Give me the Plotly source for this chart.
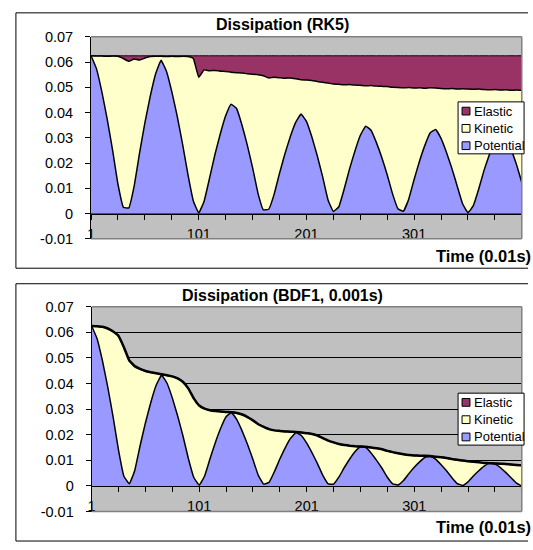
import plotly.graph_objects as go

# time steps (every 5th sample of the 0.01s series)
time_steps = list(range(1, 402, 5))

# RK5 run
rk5_potential = [
    0.0625, 0.0574, 0.0483, 0.0374, 0.0251, 0.0116, 0.0025,
    0.0022, 0.0108, 0.0238, 0.0359, 0.0465, 0.0554, 0.0607,
    0.0564, 0.0483, 0.0386, 0.0275, 0.0154, 0.0050,
    0.0002, 0.0049, 0.0139, 0.0233, 0.0315, 0.0387, 0.0433,
    0.0417, 0.0353, 0.0273, 0.0182, 0.0081, 0.0015,
    0.0017, 0.0076, 0.0159, 0.0236, 0.0304, 0.0361, 0.0394,
    0.0365, 0.0304, 0.0230, 0.0147, 0.0055, 0.0008,
    0.0026, 0.0096, 0.0176, 0.0247, 0.0309, 0.0346,
    0.0330, 0.0281, 0.0222, 0.0154, 0.0078, 0.0019,
    0.0009, 0.0057, 0.0135, 0.0207, 0.0270, 0.0320,
    0.0333, 0.0298, 0.0243, 0.0180, 0.0109, 0.0039, 0.0003,
    0.0031, 0.0097, 0.0172, 0.0235, 0.0291, 0.0326,
    0.0308, 0.0257, 0.0195, 0.0123]
rk5_kinetic = [
    0.0000, 0.0050, 0.0141, 0.0249, 0.0373, 0.0507, 0.0589,
    0.0581, 0.0504, 0.0370, 0.0257, 0.0157, 0.0069, 0.0016,
    0.0058, 0.0140, 0.0236, 0.0348, 0.0468, 0.0564,
    0.0538, 0.0520, 0.0427, 0.0334, 0.0249, 0.0176, 0.0127,
    0.0141, 0.0204, 0.0281, 0.0370, 0.0469, 0.0531,
    0.0520, 0.0464, 0.0379, 0.0300, 0.0233, 0.0173, 0.0136,
    0.0164, 0.0223, 0.0293, 0.0373, 0.0462, 0.0505,
    0.0486, 0.0414, 0.0335, 0.0262, 0.0199, 0.0160,
    0.0177, 0.0224, 0.0282, 0.0349, 0.0422, 0.0480,
    0.0489, 0.0442, 0.0362, 0.0291, 0.0226, 0.0178,
    0.0164, 0.0197, 0.0251, 0.0315, 0.0384, 0.0455, 0.0490,
    0.0461, 0.0396, 0.0319, 0.0255, 0.0200, 0.0163,
    0.0182, 0.0231, 0.0294, 0.0365]
rk5_elastic = [
    0.0000, 0.0001, 0.0001, 0.0002, 0.0001, 0.0002, 0.0011,
    0.0022, 0.0013, 0.0017, 0.0009, 0.0003, 0.0002, 0.0002,
    0.0003, 0.0002, 0.0003, 0.0002, 0.0003, 0.0011,
    0.0085, 0.0056, 0.0059, 0.0058, 0.0061, 0.0062, 0.0065,
    0.0067, 0.0068, 0.0071, 0.0073, 0.0075, 0.0079,
    0.0088, 0.0085, 0.0087, 0.0089, 0.0088, 0.0091, 0.0095,
    0.0096, 0.0098, 0.0102, 0.0105, 0.0108, 0.0112,
    0.0113, 0.0115, 0.0114, 0.0116, 0.0117, 0.0119,
    0.0118, 0.0120, 0.0121, 0.0122, 0.0125, 0.0126,
    0.0127, 0.0126, 0.0128, 0.0127, 0.0129, 0.0127,
    0.0128, 0.0130, 0.0131, 0.0130, 0.0132, 0.0131, 0.0132,
    0.0133, 0.0132, 0.0134, 0.0135, 0.0134, 0.0136,
    0.0135, 0.0137, 0.0136, 0.0137]

# BDF1 run (0.001s)
bdf1_potential = [
    0.0625, 0.0576, 0.0490, 0.0386, 0.0269, 0.0140, 0.0038,
    0.0008, 0.0059, 0.0156, 0.0246, 0.0326, 0.0393, 0.0433,
    0.0402, 0.0344, 0.0273, 0.0194, 0.0106, 0.0033,
    0.0003, 0.0038, 0.0105, 0.0169, 0.0225, 0.0270, 0.0287,
    0.0259, 0.0214, 0.0162, 0.0103, 0.0041, 0.0007,
    0.0014, 0.0056, 0.0105, 0.0149, 0.0186, 0.0209, 0.0197,
    0.0167, 0.0129, 0.0087, 0.0041, 0.0008, 0.0007,
    0.0035, 0.0072, 0.0105, 0.0134, 0.0153, 0.0150,
    0.0128, 0.0100, 0.0069, 0.0034, 0.0008, 0.0004,
    0.0021, 0.0048, 0.0073, 0.0094, 0.0112, 0.0115,
    0.0104, 0.0083, 0.0059, 0.0032, 0.0009, 0.0002, 0.0016,
    0.0039, 0.0059, 0.0077, 0.0089, 0.0086, 0.0072,
    0.0053, 0.0032, 0.0011, 0.0000]
bdf1_kinetic = [
    0.0000, 0.0048, 0.0132, 0.0229, 0.0334, 0.0446, 0.0504,
    0.0482, 0.0409, 0.0301, 0.0203, 0.0118, 0.0047, 0.0003,
    0.0030, 0.0084, 0.0147, 0.0212, 0.0274, 0.0309,
    0.0311, 0.0264, 0.0191, 0.0124, 0.0066, 0.0019, 0.0001,
    0.0026, 0.0065, 0.0107, 0.0153, 0.0200, 0.0224,
    0.0208, 0.0161, 0.0110, 0.0064, 0.0026, 0.0002, 0.0012,
    0.0039, 0.0074, 0.0110, 0.0146, 0.0169, 0.0163,
    0.0129, 0.0088, 0.0052, 0.0021, 0.0001, 0.0003,
    0.0022, 0.0047, 0.0074, 0.0103, 0.0124, 0.0124,
    0.0103, 0.0073, 0.0046, 0.0024, 0.0006, 0.0002,
    0.0010, 0.0029, 0.0050, 0.0073, 0.0093, 0.0097, 0.0080,
    0.0055, 0.0033, 0.0013, 0.0000, 0.0002, 0.0015,
    0.0033, 0.0052, 0.0071, 0.0081]
bdf1_elastic = [0.0] * len(time_steps)

series_names = ['Potential', 'Kinetic', 'Elastic']
series_colors = ['#9999FF', '#FFFFCC', '#993366']

y_ticks = [-0.01, 0, 0.01, 0.02, 0.03, 0.04, 0.05, 0.06, 0.07]
y_labels = ['-0.01', '0', '0.01', '0.02', '0.03', '0.04', '0.05', '0.06', '0.07']
x_ticks = list(range(1, 402, 25))
x_labels = ['1', '', '', '', '101', '', '', '', '201', '', '', '', '301', '', '', '', '']

chart_titles = ['Dissipation (RK5)', 'Dissipation (BDF1, 0.001s)']
x_title = 'Time (0.01s)'

W, H = 533, 550
FONT = 'Liberation Sans, Arial, sans-serif'


def px(x):
    return x / W


def py(y):
    return 1 - y / H


fig = go.Figure()

# last entry: width of the Elastic outline (it sits on the kinetic top in BDF1)
charts = [
    ('x', 'y', 'rk5', [rk5_potential, rk5_kinetic, rk5_elastic], 1),
    ('x2', 'y2', 'bdf1', [bdf1_potential, bdf1_kinetic, bdf1_elastic], 2.5),
]
for xa, ya, grp, values, top_w in charts:
    for name, color, vals in zip(series_names, series_colors, values):
        fig.add_trace(go.Scatter(
            x=time_steps, y=vals, name=name, xaxis=xa, yaxis=ya,
            mode='lines', stackgroup=grp, fillcolor=color,
            line=dict(color='black', width=1.5 if name != 'Elastic' else top_w,
                      shape='spline', smoothing=0.3),
            showlegend=False, hoverinfo='skip'))

tick_font = dict(family=FONT, size=14.5, color='black')

# pixel geometry of the two plot areas: (left, right, top=0.07, bottom=-0.01)
plots = [(87.7, 521.7, 29.7, 237.7), (88.3, 521.7, 307.7, 518.6)]

layout_axes = {}
for i, (l, r, t, b) in enumerate(plots):
    sfx = '' if i == 0 else str(i + 1)
    ydom = [py(b), py(t)]
    layout_axes['xaxis' + sfx] = dict(
        domain=[px(l), px(r)], anchor='free',
        position=ydom[0] + (ydom[1] - ydom[0]) * 0.125,
        range=[1, 401], tickmode='array', tickvals=x_ticks, ticktext=x_labels,
        ticks='outside', ticklen=5, tickcolor='black',
        showline=True, linecolor='black', linewidth=1,
        showgrid=False, zeroline=False, tickfont=tick_font,
        ticklabelstandoff=2)
    layout_axes['yaxis' + sfx] = dict(
        domain=ydom, anchor='x' + sfx, range=[-0.01, 0.07],
        tickmode='array', tickvals=y_ticks, ticktext=y_labels,
        ticks='outside', ticklen=5, tickcolor='black',
        showline=True, linecolor='black', linewidth=1,
        showgrid=True, gridcolor='black', gridwidth=1,
        zeroline=False, tickfont=tick_font, ticklabelstandoff=9)

shapes = []
annotations = []

# plot area borders (gray) on top, right and bottom
for l, r, t, b in plots:
    for x0, y0, x1, y1 in [(l, t, r, t), (r, t, r, b), (l, b, r, b)]:
        shapes.append(dict(type='line', xref='paper', yref='paper',
                           x0=px(x0), y0=py(y0), x1=px(x1), y1=py(y1),
                           line=dict(color='#808080', width=1.5), layer='above'))

# outer chart boxes
for top, bot in [(5, 268), (284, 549)]:
    for x0, y0, x1, y1 in [(12, top, 528, top), (12, top, 12, bot), (12, bot, 528, bot)]:
        shapes.append(dict(type='line', xref='paper', yref='paper',
                           x0=px(x0), y0=py(y0), x1=px(x1), y1=py(y1),
                           line=dict(color='black', width=1)))

# titles
for title, yc in zip(chart_titles, [17, 296.5]):
    annotations.append(dict(text='<b>%s</b>' % title, x=px(281), y=py(yc),
                            xref='paper', yref='paper', xanchor='center', yanchor='middle',
                            showarrow=False, font=dict(family=FONT, size=16, color='black')))
for yc in [255, 535]:
    annotations.append(dict(text='<b>%s</b>' % x_title, x=1.0, y=py(yc),
                            xref='paper', yref='paper', xanchor='right', yanchor='middle',
                            showarrow=False, font=dict(family=FONT, size=16.5, color='black')))

# legends: box, colour squares and labels (Elastic on top)
for box_top in [96.7, 396.7]:
    shapes.append(dict(type='rect', xref='paper', yref='paper',
                       x0=px(457.5), x1=px(524), y0=py(box_top), y1=py(box_top + 53.5),
                       fillcolor='white', line=dict(color='black', width=1), layer='above'))
    for k, (name, color) in enumerate(zip(series_names[::-1], series_colors[::-1])):
        yc = box_top + 9.5 + k * 17.8
        shapes.append(dict(type='rect', xref='paper', yref='paper',
                           x0=px(461.5), x1=px(469.5), y0=py(yc - 4), y1=py(yc + 4),
                           fillcolor=color, line=dict(color='black', width=1), layer='above'))
        annotations.append(dict(text=name, x=px(471.5), y=py(yc), xref='paper', yref='paper',
                                xanchor='left', yanchor='middle', showarrow=False,
                                font=dict(family=FONT, size=13, color='black')))

fig.update_layout(
    width=W, height=H,
    margin=dict(l=0, r=0, t=0, b=0),
    paper_bgcolor='white', plot_bgcolor='#C0C0C0',
    showlegend=False,
    shapes=shapes, annotations=annotations,
    **layout_axes)

fig.write_html("out.html", config={'displayModeBar': False},
               post_script="document.body.style.margin='0';document.body.style.overflow='hidden';")
